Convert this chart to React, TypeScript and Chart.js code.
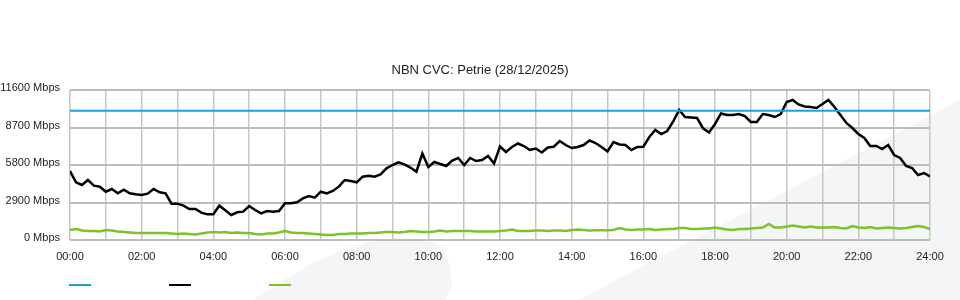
import React, { useEffect, useRef } from 'react';
import { Chart, registerables } from 'chart.js';

Chart.register(...registerables);

const TITLE = 'NBN CVC: Petrie (28/12/2025)';
const SAMPLE_STEP_MIN = 10;
const Y_MAX = 11600;
const Y_STEP = 2900;
const X_LABEL_EVERY_MIN = 120;

// CVC capacity (Mbps)
const capacity = [10000, 10000];
const capacityTimes = [0, 1440];

// Download traffic (Mbps), every 10 minutes from 00:00 to 24:00
const download = [
  5336, 4460, 4253, 4640, 4200, 4124, 3737, 3944, 3609, 3892,
  3609, 3532, 3480, 3583, 3944, 3686, 3609, 2810, 2810, 2655,
  2397, 2397, 2114, 1985, 1985, 2655, 2294, 1933, 2139, 2191,
  2630, 2320, 2062, 2243, 2191, 2243, 2836, 2836, 2913, 3222,
  3403, 3274, 3737, 3609, 3789, 4124, 4640, 4563, 4460, 4898,
  4975, 4898, 5078, 5542, 5800, 6006, 5852, 5600, 5284, 6689,
  5645, 6032, 5877, 5722, 6148, 6341, 5800, 6341, 6109, 6187,
  6496, 5916, 7231, 6805, 7192, 7462, 7269, 6960, 7076, 6766,
  7153, 7215, 7656, 7346, 7115, 7192, 7346, 7694, 7501, 7192,
  6844, 7579, 7385, 7346, 6960, 7192, 7215, 7965, 8506, 8197,
  8429, 9164, 10053, 9512, 9473, 9434, 8638, 8313, 8970, 9783,
  9667, 9667, 9744, 9589, 9125, 9125, 9744, 9667, 9512, 9744,
  10672, 10827, 10479, 10324, 10285, 10208, 10517, 10827, 10285, 9667,
  9048, 8661, 8197, 7888, 7269, 7269, 7037, 7346, 6573, 6341,
  5722, 5568, 5027, 5181, 4910,
];

// Upload traffic (Mbps)
const upload = [
  773, 851, 735, 696, 696, 657, 773, 735, 657, 619,
  580, 541, 541, 541, 541, 541, 541, 503, 464, 503,
  464, 425, 503, 580, 619, 580, 619, 541, 580, 541,
  541, 464, 425, 503, 503, 580, 696, 580, 541, 541,
  503, 464, 425, 387, 387, 464, 464, 503, 503, 503,
  541, 541, 580, 619, 619, 580, 619, 696, 657, 619,
  619, 657, 735, 657, 696, 696, 696, 696, 657, 657,
  657, 657, 696, 735, 812, 696, 696, 696, 735, 735,
  696, 735, 735, 696, 773, 812, 773, 735, 750, 750,
  750, 773, 928, 812, 773, 812, 812, 851, 773, 812,
  851, 851, 928, 928, 851, 851, 889, 889, 967, 889,
  812, 773, 851, 851, 889, 928, 967, 1237, 967, 967,
  1044, 1121, 1044, 967, 1044, 967, 967, 967, 1005, 928,
  889, 1083, 967, 928, 1005, 889, 928, 967, 928, 889,
  928, 1005, 1083, 1005, 851,
];

const FONT = '"Liberation Sans", Arial, sans-serif';
const COLORS = { capacity: '#1fa0dc', download: '#000000', upload: '#7cc22c' };

const watermark = {
  id: 'watermark',
  beforeDraw(chart: any) {
    const ctx = chart.ctx;
    ctx.save();
    ctx.fillStyle = '#f4f5f7';
    ctx.beginPath();
    ctx.moveTo(578, 300);
    ctx.lineTo(960, 100);
    ctx.lineTo(960, 300);
    ctx.closePath();
    ctx.fill();
    ctx.beginPath();
    ctx.moveTo(253, 300);
    ctx.lineTo(282, 281);
    ctx.lineTo(312, 263);
    ctx.lineTo(342, 250);
    ctx.lineTo(372, 241);
    ctx.lineTo(400, 238);
    ctx.lineTo(425, 240);
    ctx.lineTo(442, 246);
    ctx.lineTo(450, 265);
    ctx.lineTo(452, 285);
    ctx.lineTo(446, 300);
    ctx.closePath();
    ctx.fill();
    ctx.restore();
  },
};

const lineLegend = {
  id: 'lineLegend',
  afterDraw(chart: any) {
    const ctx = chart.ctx;
    ctx.save();
    chart.data.datasets.forEach((ds: any, i: number) => {
      const x0 = 69 + i * 100;
      ctx.strokeStyle = ds.borderColor;
      ctx.lineWidth = 2;
      ctx.beginPath();
      ctx.moveTo(x0, 285);
      ctx.lineTo(x0 + 22, 285);
      ctx.stroke();
    });
    ctx.restore();
  },
};

function pad2(n: number) {
  return n < 10 ? '0' + n : '' + n;
}

export default function App() {
  const ref = useRef<HTMLCanvasElement | null>(null);
  useEffect(() => {
    document.body.style.margin = '0';
    const canvas = ref.current!;
    const chart = new Chart(canvas, {
      type: 'line',
      data: {
        datasets: [
          {
            label: 'Capacity',
            data: capacity.map((v, i) => ({ x: capacityTimes[i], y: v })),
            borderColor: COLORS.capacity,
            borderWidth: 2,
            pointRadius: 0,
          },
          {
            label: 'Download',
            data: download.map((v, i) => ({ x: i * SAMPLE_STEP_MIN, y: v })),
            borderColor: COLORS.download,
            borderWidth: 2.5,
            pointRadius: 0,
          },
          {
            label: 'Upload',
            data: upload.map((v, i) => ({ x: i * SAMPLE_STEP_MIN, y: v })),
            borderColor: COLORS.upload,
            borderWidth: 2.5,
            pointRadius: 0,
          },
        ],
      },
      options: {
        animation: false,
        responsive: false,
        devicePixelRatio: 1,
        layout: { padding: { left: 0, right: 0, top: 0, bottom: 0 } },
        plugins: {
          legend: { display: false },
          tooltip: { enabled: false },
          title: {
            display: true,
            text: TITLE,
            color: '#222',
            font: { family: FONT, size: 13, weight: 'normal' },
            padding: { top: 63, bottom: 11.4 },
          },
        },
        scales: {
          x: {
            type: 'linear',
            min: 0,
            max: 1440,
            afterFit: (s: any) => { s.height = 60; },
            ticks: {
              stepSize: 60,
              autoSkip: false,
              maxRotation: 0,
              padding: 10,
              color: '#222',
              font: { family: FONT, size: 11 },
              callback: (v: any) => (Number(v) % X_LABEL_EVERY_MIN === 0 ? pad2(Number(v) / 60) + ':00' : ''),
            },
            grid: { color: '#c6c6c6', lineWidth: 1.5, drawTicks: false },
            border: { display: false },
          },
          y: {
            min: 0,
            max: Y_MAX,
            afterFit: (s: any) => { s.width = 70; },
            ticks: {
              stepSize: Y_STEP,
              padding: 10,
              labelOffset: -2,
              color: '#222',
              font: { family: FONT, size: 11 },
              callback: (v: any) => v + ' Mbps',
            },
            grid: { color: '#bdbdbd', lineWidth: 2, drawTicks: false },
            border: { display: false },
          },
          yRight: {
            position: 'right',
            display: true,
            min: 0,
            max: Y_MAX,
            afterFit: (s: any) => { s.width = 30; },
            ticks: { display: false },
            grid: { display: false },
            border: { display: false },
          },
        },
      },
      plugins: [watermark, lineLegend],
    } as any);
    return () => chart.destroy();
  }, []);
  return (
    <div style={{ width: 960, height: 300, position: 'relative' }}>
      <canvas ref={ref} width={960} height={300} style={{ display: 'block' }} />
    </div>
  );
}
